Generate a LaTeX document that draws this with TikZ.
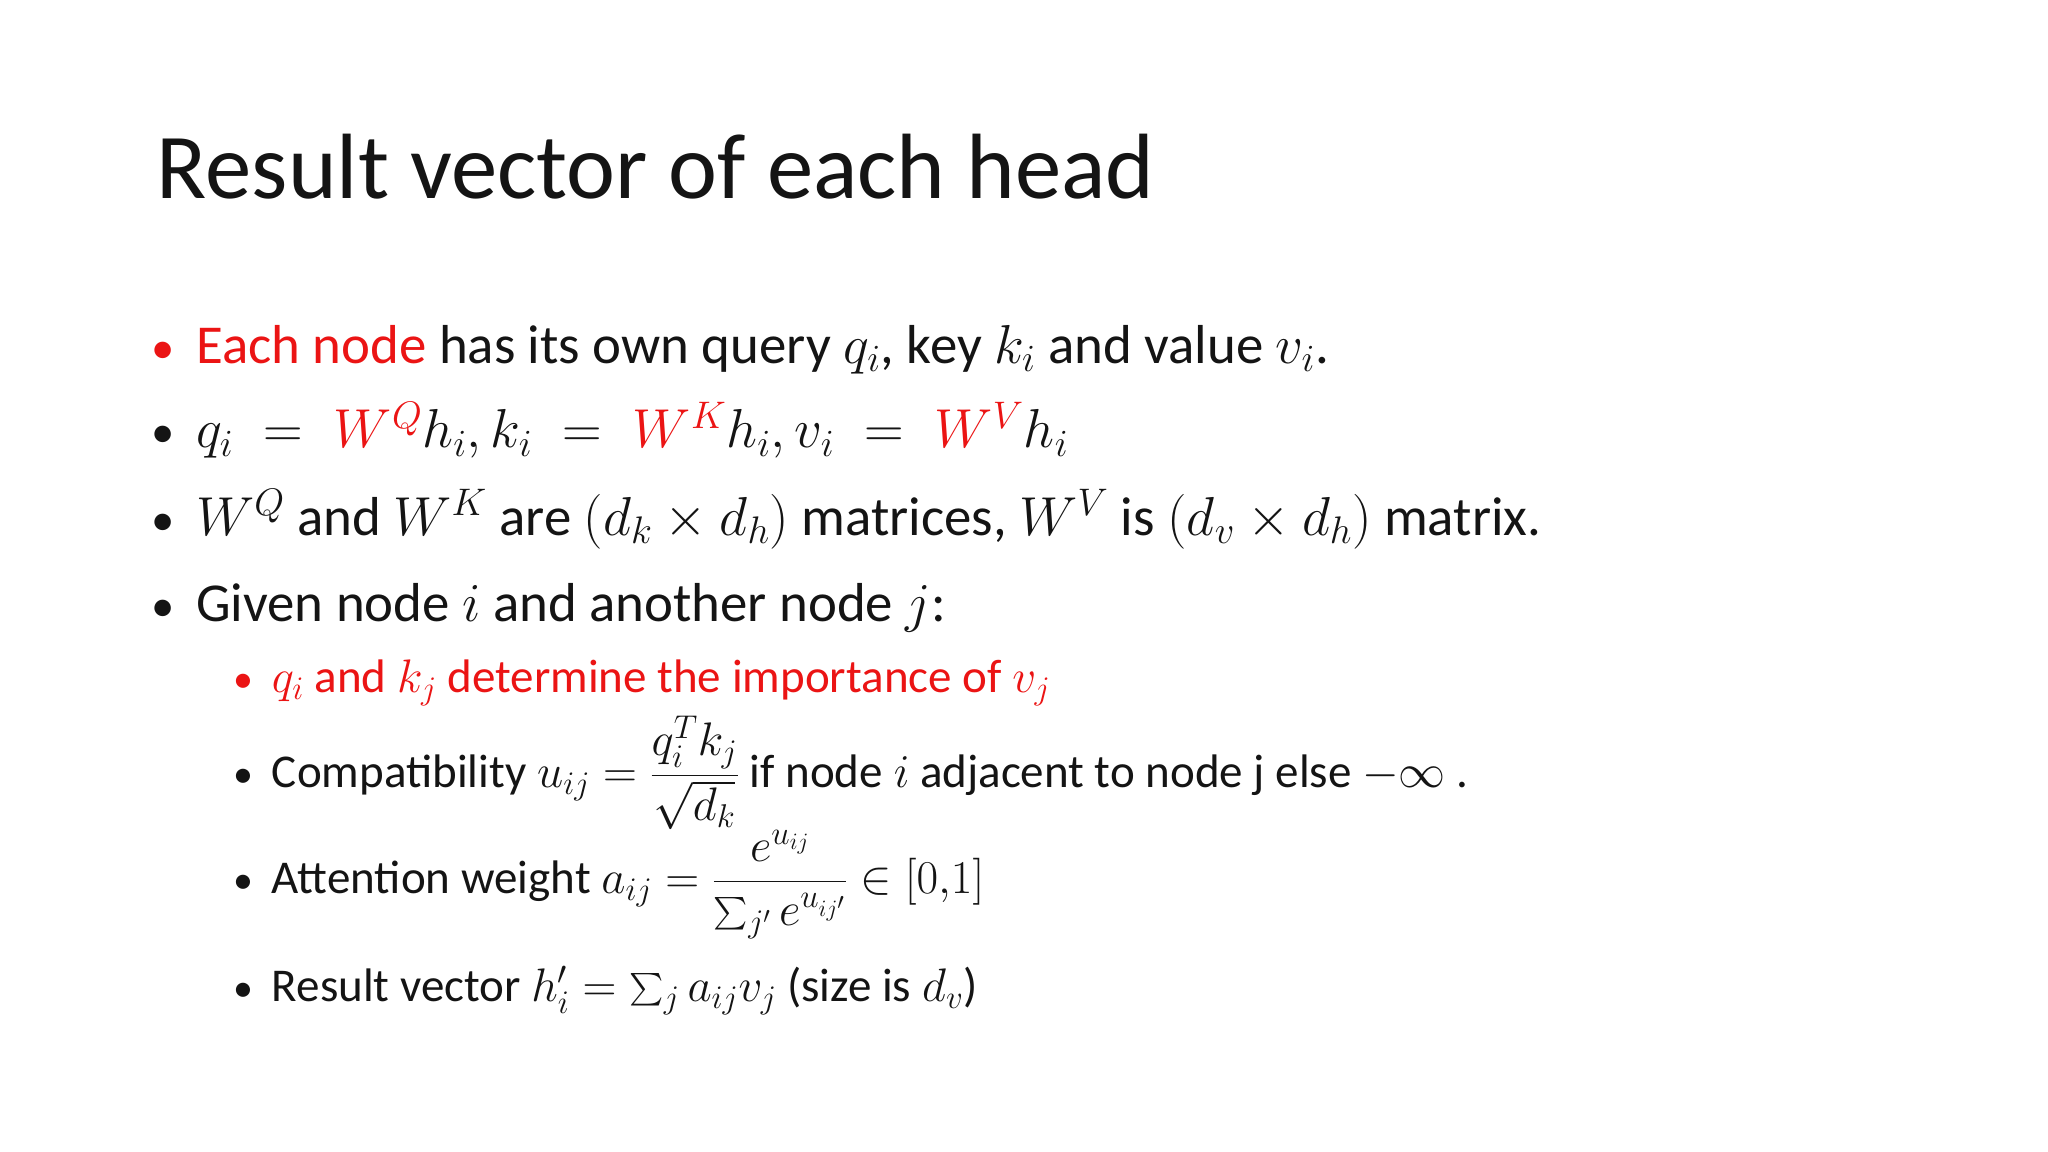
\documentclass[tikz,border=0pt]{standalone}
\usepackage{fix-cm}
\usepackage{amsmath}
\usepackage{fontspec}
\setmainfont{Carlito}
\definecolor{hl}{RGB}{235,20,20}
\definecolor{tx}{RGB}{20,20,20}
\newcommand{\bul}{\makebox[0pt][r]{\scalebox{0.85}{•}\hspace{0.4em}}}
\begin{document}
\begin{tikzpicture}[x=1pt,y=1pt,
  title/.style={anchor=base west,inner sep=0,font=\fontsize{71}{80}\selectfont,text=tx},
  lvla/.style={anchor=base west,inner sep=0,font=\fontsize{42}{48}\selectfont,text=tx},
  lvlb/.style={anchor=base west,inner sep=0,font=\fontsize{36}{42}\selectfont,text=tx}]
\fill[white] (0,0) rectangle (1568,-882);
\useasboundingbox (0,0) rectangle (1568,-882);
\node[title] (t) at (120,-152) {Result vector of each head};
\node[lvla] (b1) at (150,-278) {\textcolor{hl}{\bul Each node} has its own query $q_i$, key $k_i$ and value $v_i$.};
\node[lvla] (b2) at (150,-343) {\bul$q_i\;=\;\textcolor{hl}{W^Q}h_i, k_i\;=\;\textcolor{hl}{W^K}h_i, v_i\;=\;\textcolor{hl}{W^V}h_i$};
\node[lvla] (b3) at (150,-410) {\bul$W^Q$ and $W^K$ are $(d_k\times d_h)$ matrices, $W^V$ is $(d_v\times d_h)$ matrix.};
\node[lvla] (b4) at (150,-476) {\bul Given node $i$ and another node $j$:};
\node[lvlb,text=hl] (s1) at (208,-530) {\bul$q_i$ and $k_j$ determine the importance of $v_j$};
\node[lvlb] (s2) at (208,-603) {\bul Compatibility $u_{ij}=\dfrac{q_i^Tk_j}{\sqrt{d_k}}$ if node $i$ adjacent to node j else $-\infty$ .};
\node[lvlb] (s3) at (208,-684) {\bul Attention weight $a_{ij}=\dfrac{e^{u_{ij}}}{\sum_{j'}e^{u_{ij'}}}\in[0{,}1]$};
\node[lvlb] (s4) at (208,-767) {\bul Result vector $h_i'=\sum_j a_{ij}v_j$ (size is $d_v$)};
\end{tikzpicture}
\end{document}
